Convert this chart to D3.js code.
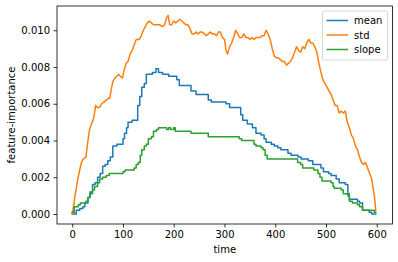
<!DOCTYPE html>
<html>
<head>
<meta charset="utf-8">
<script src="https://cdn.jsdelivr.net/npm/d3@7"></script>
<style>
  body { margin: 0; background: #fff; }
  text { font-family: "DejaVu Sans", sans-serif; }
</style>
</head>
<body>
<div class="chart"></div>
<script>
// mean: stepped series
const meanTime = [0, 5, 8, 15, 21, 25, 31, 35, 40, 45, 50, 55, 60, 65, 70, 75, 80, 88, 96, 100, 103, 107, 110, 118, 125, 129, 133, 137, 142, 146, 158, 165, 170, 178, 190, 200, 206, 211, 228, 234, 244, 264, 268, 274, 303, 310, 326, 332, 336, 345, 355, 362, 372, 378, 382, 392, 398, 405, 411, 425, 431, 445, 451, 465, 474, 490, 495, 505, 510, 520, 526, 538, 543, 546, 562, 566, 572, 585, 590, 598];
const meanValues = [0.0000, 0.0000, 0.0002, 0.0003, 0.0004, 0.0006, 0.0009, 0.0012, 0.0016, 0.0017, 0.0020, 0.0022, 0.0026, 0.0027, 0.0029, 0.0031, 0.0037, 0.0038, 0.0038, 0.0041, 0.0044, 0.0047, 0.0050, 0.0051, 0.0051, 0.0059, 0.0064, 0.0069, 0.0071, 0.0076, 0.0077, 0.0079, 0.0077, 0.0076, 0.0075, 0.0075, 0.0073, 0.0070, 0.0070, 0.0067, 0.0065, 0.0065, 0.0062, 0.0061, 0.0060, 0.0058, 0.0058, 0.0054, 0.0051, 0.0049, 0.0047, 0.0044, 0.0043, 0.0041, 0.0039, 0.0038, 0.0037, 0.0036, 0.0035, 0.0033, 0.0032, 0.0031, 0.0030, 0.0029, 0.0027, 0.0025, 0.0023, 0.0022, 0.0021, 0.0019, 0.0017, 0.0016, 0.0011, 0.0008, 0.0007, 0.0006, 0.0002, 0.0001, 0.0000, 0.0000];

// std: noisy series
const stdTime = [0, 3, 5, 8, 11, 14, 18, 22, 27, 30, 34, 38, 41, 44, 46, 50, 54, 58, 63, 67, 71, 74, 77, 80, 84, 88, 91, 95, 99, 102, 106, 110, 114, 118, 122, 126, 132, 136, 140, 144, 148, 152, 156, 160, 166, 172, 178, 182, 186, 189, 192, 196, 200, 204, 208, 212, 216, 220, 224, 228, 232, 236, 240, 244, 248, 252, 256, 260, 264, 268, 272, 276, 280, 284, 288, 292, 296, 300, 303, 306, 310, 314, 318, 322, 326, 330, 334, 338, 342, 346, 350, 354, 358, 362, 366, 370, 374, 378, 382, 386, 390, 394, 398, 402, 406, 410, 414, 418, 422, 426, 430, 434, 438, 442, 446, 450, 454, 458, 462, 466, 470, 474, 478, 482, 486, 490, 494, 498, 502, 506, 510, 514, 518, 522, 526, 530, 534, 538, 542, 546, 550, 554, 558, 562, 566, 570, 574, 578, 582, 586, 590, 593, 596, 598];
const stdValues = [0.0000, 0.0005, 0.0009, 0.0014, 0.0019, 0.0023, 0.0028, 0.0030, 0.0031, 0.0038, 0.0046, 0.0049, 0.0051, 0.0055, 0.0059, 0.0058, 0.0058, 0.0060, 0.0061, 0.0062, 0.0063, 0.0063, 0.0068, 0.0072, 0.0074, 0.0075, 0.0076, 0.0075, 0.0074, 0.0078, 0.0082, 0.0083, 0.0087, 0.0089, 0.0092, 0.0095, 0.0095, 0.0097, 0.0100, 0.0102, 0.0104, 0.0105, 0.0104, 0.0103, 0.0103, 0.0103, 0.0102, 0.0103, 0.0107, 0.0108, 0.0103, 0.0103, 0.0105, 0.0104, 0.0105, 0.0106, 0.0105, 0.0104, 0.0103, 0.0103, 0.0101, 0.0098, 0.0098, 0.0099, 0.0098, 0.0099, 0.0099, 0.0098, 0.0097, 0.0098, 0.0099, 0.0098, 0.0098, 0.0097, 0.0099, 0.0099, 0.0096, 0.0095, 0.0089, 0.0087, 0.0091, 0.0093, 0.0096, 0.0100, 0.0098, 0.0096, 0.0096, 0.0098, 0.0096, 0.0096, 0.0095, 0.0096, 0.0095, 0.0096, 0.0096, 0.0096, 0.0097, 0.0097, 0.0100, 0.0098, 0.0095, 0.0090, 0.0086, 0.0085, 0.0085, 0.0084, 0.0083, 0.0083, 0.0081, 0.0082, 0.0083, 0.0085, 0.0088, 0.0091, 0.0089, 0.0088, 0.0091, 0.0090, 0.0093, 0.0095, 0.0093, 0.0093, 0.0091, 0.0088, 0.0082, 0.0077, 0.0073, 0.0071, 0.0069, 0.0067, 0.0065, 0.0062, 0.0059, 0.0059, 0.0055, 0.0056, 0.0055, 0.0056, 0.0050, 0.0047, 0.0043, 0.0041, 0.0037, 0.0035, 0.0031, 0.0028, 0.0027, 0.0028, 0.0025, 0.0022, 0.0019, 0.0014, 0.0008, 0.0002];

// slope: stepped series
const slopeTime = [0, 4, 12, 16, 27, 31, 35, 40, 44, 50, 54, 60, 67, 73, 100, 104, 122, 126, 130, 134, 137, 142, 146, 150, 156, 160, 166, 170, 186, 190, 194, 200, 203, 230, 234, 264, 268, 323, 329, 334, 355, 358, 362, 372, 376, 380, 384, 440, 444, 450, 454, 476, 484, 488, 492, 510, 514, 516, 530, 534, 543, 546, 552, 562, 566, 572, 590, 595, 598];
const slopeValues = [0.0001, 0.0004, 0.0005, 0.0006, 0.0007, 0.0009, 0.0011, 0.0013, 0.0015, 0.0017, 0.0019, 0.0020, 0.0021, 0.0022, 0.0023, 0.0024, 0.0025, 0.0027, 0.0028, 0.0032, 0.0035, 0.0037, 0.0038, 0.0041, 0.0042, 0.0045, 0.0046, 0.0047, 0.0046, 0.0047, 0.0046, 0.0047, 0.0045, 0.0045, 0.0044, 0.0044, 0.0042, 0.0042, 0.0041, 0.0040, 0.0040, 0.0038, 0.0037, 0.0036, 0.0035, 0.0032, 0.0030, 0.0030, 0.0028, 0.0027, 0.0025, 0.0024, 0.0022, 0.0020, 0.0018, 0.0017, 0.0015, 0.0014, 0.0013, 0.0011, 0.0010, 0.0007, 0.0006, 0.0005, 0.0004, 0.0002, 0.0002, 0.0001, 0.0001];

const xTicks = [0, 100, 200, 300, 400, 500, 600];
const yTicks = [0, 0.002, 0.004, 0.006, 0.008, 0.010];

const width = 398;
const height = 262;
const margin = {top: 6, right: 5.5, bottom: 38, left: 57};

const series = [
    {name: "mean", color: "#1f77b4", time: meanTime, values: meanValues, curve: d3.curveStepAfter},
    {name: "std", color: "#ff7f0e", time: stdTime, values: stdValues, curve: d3.curveLinear},
    {name: "slope", color: "#2ca02c", time: slopeTime, values: slopeValues, curve: d3.curveStepAfter}
];

const x = d3.scaleLinear()
    .domain([-30, 631])
    .range([margin.left, width - margin.right]);

const y = d3.scaleLinear()
    .domain([-0.000544, 0.01132])
    .range([height - margin.bottom, margin.top]);

const svg = d3.select(".chart")
    .append("svg")
    .attr("width", width)
    .attr("height", height);

// lines
const plot = svg.append("g");
series.forEach(function (s) {
    const line = d3.line()
        .x((d, i) => x(s.time[i]))
        .y(d => y(d))
        .curve(s.curve);
    plot.append("path")
        .attr("d", line(s.values))
        .attr("fill", "none")
        .attr("stroke", s.color)
        .attr("stroke-width", 1.5)
        .attr("stroke-linejoin", "round")
        .attr("stroke-linecap", "square");
});

// axes
const xAxis = svg.append("g")
    .attr("transform", "translate(0," + (height - margin.bottom) + ")")
    .call(d3.axisBottom(x).tickValues(xTicks).tickSize(3.5).tickPadding(3.5).tickFormat(d3.format("d")));

const yAxis = svg.append("g")
    .attr("transform", "translate(" + margin.left + ",0)")
    .call(d3.axisLeft(y).tickValues(yTicks).tickSize(3.5).tickPadding(3.5).tickFormat(d3.format(".3f")));

[xAxis, yAxis].forEach(function (a) {
    a.select(".domain").remove();
    a.selectAll(".tick line").attr("stroke", "#000").attr("stroke-width", 0.8);
    a.selectAll(".tick text")
        .attr("fill", "#000")
        .style("font-size", "10px")
        .style("font-family", "DejaVu Sans");
});

// frame
svg.append("rect")
    .attr("x", margin.left)
    .attr("y", margin.top)
    .attr("width", width - margin.left - margin.right)
    .attr("height", height - margin.top - margin.bottom)
    .attr("fill", "none")
    .attr("stroke", "#000")
    .attr("stroke-width", 0.8);

// axis labels
svg.append("text")
    .attr("x", (margin.left + width - margin.right) / 2)
    .attr("y", 253)
    .attr("text-anchor", "middle")
    .style("font-size", "10px")
    .text("time");

svg.append("text")
    .attr("transform", "translate(15," + ((margin.top + height - margin.bottom) / 2) + ") rotate(-90)")
    .attr("text-anchor", "middle")
    .style("font-size", "10px")
    .text("feature-importance");

// legend
const legend = svg.append("g");
legend.append("rect")
    .attr("x", 322.5)
    .attr("y", 11)
    .attr("width", 65)
    .attr("height", 49)
    .attr("rx", 2)
    .attr("fill", "#fff")
    .attr("fill-opacity", 0.8)
    .attr("stroke", "#ccc")
    .attr("stroke-width", 0.8);

series.forEach(function (s, i) {
    const cy = 20.5 + i * 14.5;
    legend.append("line")
        .attr("x1", 326.5)
        .attr("x2", 348)
        .attr("y1", cy)
        .attr("y2", cy)
        .attr("stroke", s.color)
        .attr("stroke-width", 1.5);
    legend.append("text")
        .attr("x", 354)
        .attr("y", cy)
        .attr("dy", "0.35em")
        .style("font-size", "10px")
        .text(s.name);
});
</script>
</body>
</html>
